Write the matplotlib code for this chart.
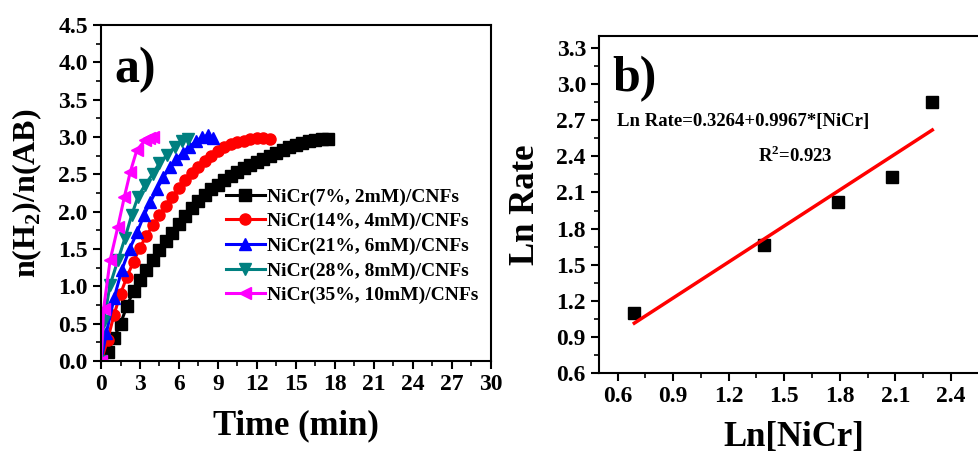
import matplotlib
matplotlib.use("Agg")
import matplotlib.pyplot as plt
from matplotlib.ticker import MultipleLocator, FormatStrFormatter
import numpy as np

plt.rcParams['font.family'] = ['Liberation Serif', 'DejaVu Serif']
plt.rcParams['font.weight'] = 'bold'
plt.rcParams['mathtext.fontset'] = 'custom'
plt.rcParams['mathtext.rm'] = 'Liberation Serif:bold'
plt.rcParams['mathtext.bf'] = 'Liberation Serif:bold'

# panel a: hydrogen release curves
labels = ["NiCr(7%, 2mM)/CNFs", "NiCr(14%, 4mM)/CNFs", "NiCr(21%, 6mM)/CNFs",
          "NiCr(28%, 8mM)/CNFs", "NiCr(35%, 10mM)/CNFs"]
colors = ["#000000", "#FF0000", "#0000FF", "#008080", "#FF00FF"]
markers = ["s", "o", "^", "v", "<"]

t_black = [0, 0.5, 1, 1.5, 2, 2.5, 3, 3.5, 4, 4.5, 5, 5.5, 6, 6.5, 7, 7.5, 8, 8.5,
           9, 9.5, 10, 10.5, 11, 11.5, 12, 12.5, 13, 13.5, 14, 14.5, 15, 15.5, 16,
           16.5, 17, 17.5]
y_black = [0, 0.12, 0.31, 0.50, 0.74, 0.94, 1.09, 1.22, 1.35, 1.48, 1.61, 1.72, 1.83,
           1.94, 2.05, 2.14, 2.22, 2.30, 2.36, 2.42, 2.48, 2.53, 2.58, 2.63, 2.67,
           2.71, 2.75, 2.79, 2.83, 2.86, 2.89, 2.92, 2.94, 2.96, 2.97, 2.97]
t_red = [0, 0.5, 1, 1.5, 2, 2.5, 3, 3.5, 4, 4.5, 5, 5.5, 6, 6.5, 7, 7.5, 8, 8.5,
         9, 9.5, 10, 10.5, 11, 11.5, 12, 12.5, 13]
y_red = [0, 0.28, 0.62, 0.90, 1.13, 1.33, 1.52, 1.68, 1.82, 1.95, 2.08, 2.20, 2.32,
         2.42, 2.52, 2.60, 2.68, 2.75, 2.81, 2.86, 2.90, 2.93, 2.95, 2.97, 2.98,
         2.98, 2.97]
t_blue = [0, 0.4, 1, 1.6, 2.2, 2.8, 3.3, 3.8, 4.3, 4.8, 5.3, 5.8, 6.3, 6.8, 7.3,
          7.8, 8.2, 8.6]
y_blue = [0, 0.37, 0.84, 1.22, 1.50, 1.73, 1.95, 2.13, 2.30, 2.46, 2.60, 2.70, 2.79,
          2.87, 2.94, 3.00, 3.02, 2.98]
t_teal = [0, 0.2, 0.7, 1.3, 1.85, 2.35, 2.85, 3.4, 4.0, 4.5, 5.1, 5.7, 6.2, 6.7]
y_teal = [0, 0.53, 1.02, 1.35, 1.65, 1.95, 2.20, 2.36, 2.51, 2.65, 2.76, 2.87,
          2.95, 2.97]
t_mag = [0, 0.2, 0.7, 1.3, 1.8, 2.25, 2.75, 3.4, 3.7, 4.0]
y_mag = [0, 0.70, 1.35, 1.80, 2.20, 2.53, 2.82, 2.96, 2.98, 3.00]

times = [t_black, t_red, t_blue, t_teal, t_mag]
values = [y_black, y_red, y_blue, y_teal, y_mag]

# panel b: rate vs concentration
ln_nicr = [0.69, 1.39, 1.79, 2.08, 2.30]
ln_rate = [1.10, 1.66, 2.02, 2.23, 2.85]
intercept = 0.3264
slope = 0.9967

fig = plt.figure(figsize=(9.79, 4.53), dpi=100)
ax1 = fig.add_axes([0.1032, 0.203, 0.398, 0.742])
ax2 = fig.add_axes([0.612, 0.1766, 0.397, 0.744])

for t, y, c, m, lab in zip(times, values, colors, markers, labels):
    ax1.plot(t, y, color=c, marker=m, markersize=8, linewidth=2.2, label=lab)

ax1.set_xlim(0, 30)
ax1.set_ylim(0, 4.5)
ax1.xaxis.set_major_locator(MultipleLocator(3))
ax1.xaxis.set_minor_locator(MultipleLocator(1.5))
ax1.yaxis.set_major_locator(MultipleLocator(0.5))
ax1.yaxis.set_minor_locator(MultipleLocator(0.25))
ax1.yaxis.set_major_formatter(FormatStrFormatter('%.1f'))
ax1.set_xlabel("Time (min)", fontsize=25, fontweight='bold', labelpad=10)
ax1.set_ylabel(r"n(H$_2$)/n(AB)", fontsize=23, fontweight='bold', labelpad=10)
ax1.text(0.035, 0.83, "a)", transform=ax1.transAxes, fontsize=36, fontweight='bold')
ax1.legend(loc='upper left', bbox_to_anchor=(0.32, 0.515), frameon=False,
           prop={'size': 14, 'weight': 'bold'}, handlelength=2.0, handletextpad=0.1,
           labelspacing=0.36, borderpad=0, borderaxespad=0)

ax2.plot(ln_nicr, ln_rate, 's', color='black', markersize=8.5)
xfit = np.array([ln_nicr[0], ln_nicr[-1]])
ax2.plot(xfit, intercept + slope * xfit, color='#FF0000', linewidth=2.5)
ax2.set_xlim(0.5, 2.6)
ax2.set_ylim(0.6, 3.4)
ax2.xaxis.set_major_locator(MultipleLocator(0.3))
ax2.xaxis.set_minor_locator(MultipleLocator(0.15))
ax2.yaxis.set_major_locator(MultipleLocator(0.3))
ax2.yaxis.set_minor_locator(MultipleLocator(0.15))
ax2.xaxis.set_major_formatter(FormatStrFormatter('%.1f'))
ax2.yaxis.set_major_formatter(FormatStrFormatter('%.1f'))
ax2.set_xlabel("Ln[NiCr]", fontsize=25, fontweight='bold', labelpad=10)
ax2.set_ylabel("Ln Rate", fontsize=25, fontweight='bold', labelpad=10)
ax2.text(0.035, 0.835, "b)", transform=ax2.transAxes, fontsize=36, fontweight='bold')
ax2.text(0.045, 0.745, "Ln Rate=0.3264+0.9967*[NiCr]", transform=ax2.transAxes,
         fontsize=13.5, fontweight='bold', va='center')
ax2.text(0.41, 0.645, r"R$^2$=0.923", transform=ax2.transAxes,
         fontsize=13.5, fontweight='bold', va='center')

for ax in (ax1, ax2):
    for s in ax.spines.values():
        s.set_linewidth(1.5)
    ax.tick_params(which='major', direction='out', length=6, width=1.5, labelsize=17)
    ax.tick_params(which='minor', direction='out', length=3.5, width=1.2)
    for lab in ax.get_xticklabels() + ax.get_yticklabels():
        lab.set_fontweight('bold')

fig.savefig("out.png", dpi=100)
